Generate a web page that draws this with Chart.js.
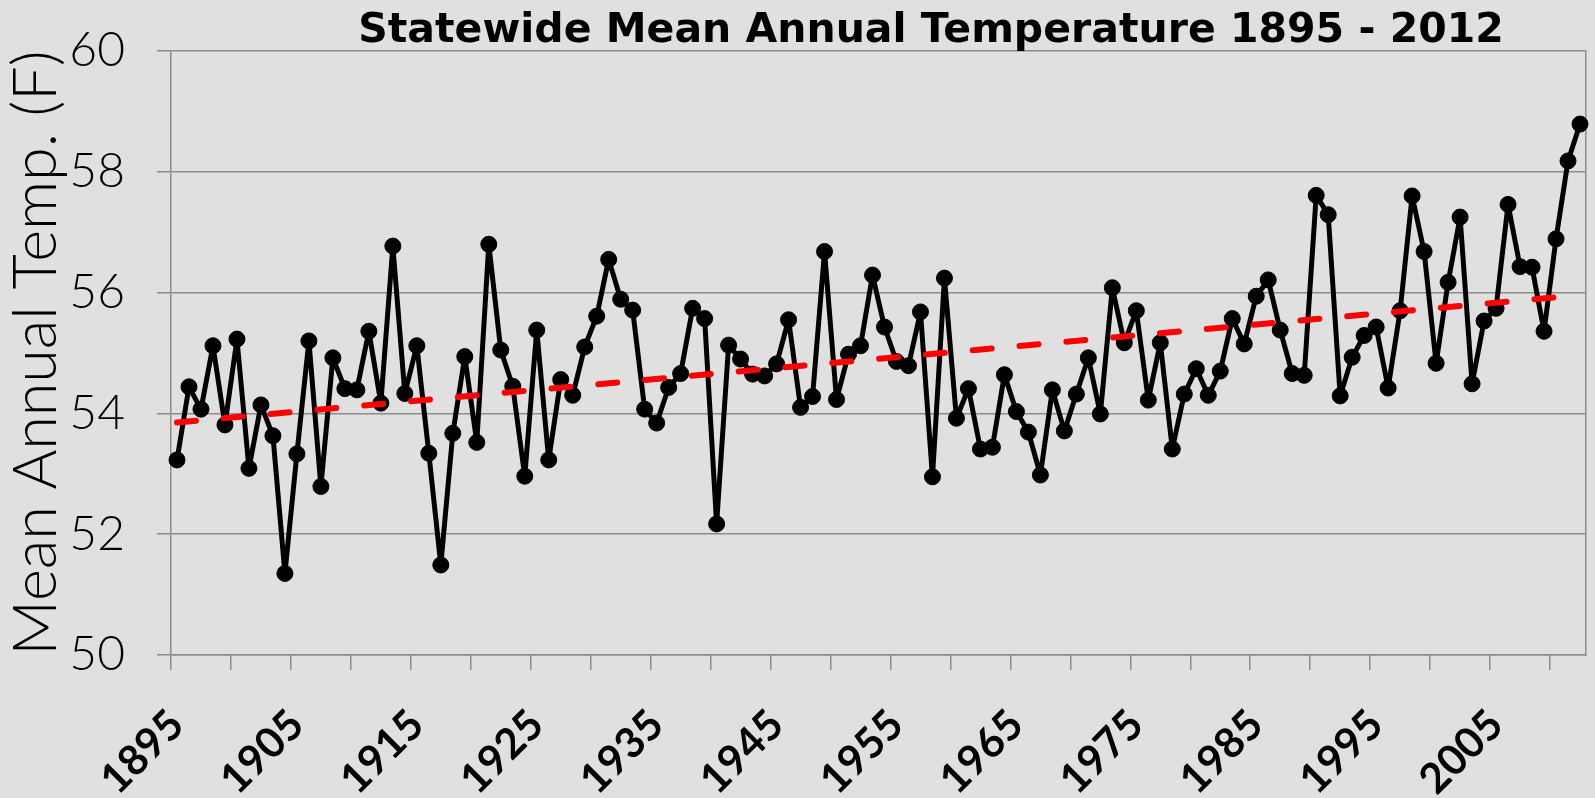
<!DOCTYPE html>
<html>
<head>
<meta charset="utf-8">
<title>Statewide Mean Annual Temperature 1895 - 2012</title>
<script src="https://cdn.jsdelivr.net/npm/chart.js@4"></script>
<style>
  html, body { margin: 0; padding: 0; background: #e0e0e0; }
  #wrap { width: 1595px; height: 798px; position: relative; }
</style>
</head>
<body>
<div id="wrap"><canvas id="temp-chart"></canvas></div>
<script>
// chart title
const chartTitle = 'Statewide Mean Annual Temperature 1895 - 2012';
const yTitle = 'Mean Annual Temp. (F)';
// years on the x axis
const firstYear = 1895;
const lastYear = 2012;
// mean annual temperature (F), 1895 .. 2012
const meanTemps = [
  53.23, 54.44, 54.07, 55.12, 53.81, 55.23, 53.09, 54.14, 53.63, 51.35, // 1895-1904
  53.33, 55.20, 52.79, 54.92, 54.41, 54.39, 55.36, 54.17, 56.77, 54.33, // 1905-1914
  55.12, 53.34, 51.49, 53.67, 54.94, 53.52, 56.80, 55.05, 54.45, 52.96, // 1915-1924
  55.38, 53.23, 54.56, 54.30, 55.10, 55.61, 56.55, 55.89, 55.71, 54.07, // 1925-1934
  53.84, 54.43, 54.66, 55.74, 55.57, 52.17, 55.13, 54.90, 54.65, 54.62, // 1935-1944
  54.82, 55.55, 54.10, 54.28, 56.68, 54.23, 54.98, 55.12, 56.29, 55.43, // 1945-1954
  54.86, 54.79, 55.68, 52.95, 56.24, 53.92, 54.41, 53.41, 53.44, 54.64, // 1955-1964
  54.03, 53.69, 52.98, 54.39, 53.71, 54.32, 54.92, 53.99, 56.08, 55.17, // 1965-1974
  55.70, 54.22, 55.17, 53.41, 54.32, 54.74, 54.30, 54.70, 55.57, 55.15, // 1975-1984
  55.94, 56.21, 55.38, 54.66, 54.63, 57.61, 57.29, 54.29, 54.93, 55.29, // 1985-1994
  55.43, 54.42, 55.70, 57.60, 56.68, 54.83, 56.17, 57.25, 54.49, 55.53, // 1995-2004
  55.74, 57.46, 56.43, 56.42, 55.36, 56.89, 58.18, 58.79              // 2005-2012
];
// red dashed trend line, value at first and last year
const trendEnds = [53.85, 55.96];
// y axis ticks
const yTicks = [50, 52, 54, 56, 58, 60];

const gridGray = '#8c8c8c';
const font = 'Lato';

// build categories and the trend row from the arrays above
const years = [];
for (let y = firstYear; y <= lastYear; y++) years.push(String(y));
const trendRow = years.map((y, i) => {
  if (i === 0) return trendEnds[0];
  if (i === years.length - 1) return trendEnds[1];
  return null;
});

// title drawn over the plot, Excel style
const titlePlugin = {
  id: 'plotTitle',
  afterDraw(chart) {
    const ctx = chart.ctx;
    ctx.save();
    ctx.font = 'bold 41px "DejaVu Sans"';
    ctx.fillStyle = '#000';
    ctx.textAlign = 'center';
    ctx.textBaseline = 'alphabetic';
    ctx.fillText(chartTitle, 931, 42);
    ctx.restore();
  }
};

const tempCanvas = document.getElementById('temp-chart');

const tempChart = new Chart(tempCanvas, {
  type: 'line',
  data: {
    labels: years,
    datasets: [{
      label: 'Trend',
      data: trendRow,
      spanGaps: true,
      borderColor: '#ff0000',
      borderWidth: 6,
      borderDash: [19, 28],
      borderCapStyle: 'round',
      pointRadius: 0,
      order: 0
    }, {
      label: 'Mean Annual Temp.',
      data: meanTemps,
      borderColor: '#000',
      borderWidth: 5,
      borderJoinStyle: 'round',
      backgroundColor: '#000',
      pointBackgroundColor: '#000',
      pointBorderColor: '#000',
      pointRadius: 8,
      pointBorderWidth: 1,
      tension: 0,
      order: 1
    }]
  },
  options: {
    responsive: true,
    maintainAspectRatio: false,
    animation: false,
    layout: { padding: { top: 51, right: 0, bottom: 0, left: 0 } },
    plugins: {
      legend: { display: false },
      title: { display: false },
      tooltip: { enabled: false }
    },
    scales: {
      x: {
        type: 'category',
        offset: true,
        grid: {
          offset: true,
          drawOnChartArea: false,
          tickLength: 15,
          lineWidth: 1.5,
          color: ctx => (ctx.index % 5 === 0 ? gridGray : 'rgba(0,0,0,0)')
        },
        border: { color: gridGray, width: 1.5 },
        ticks: {
          autoSkip: false,
          maxRotation: 45,
          minRotation: 45,
          padding: 30,
          color: '#000',
          font: { family: font, size: 42, weight: 'bold' },
          callback: function (val, i) {
            return i % 10 === 0 ? this.getLabelForValue(val) : '';
          }
        },
        afterFit: s => {
          s.height = 143;
          s.paddingLeft = 0;
          s.paddingRight = 0;
        }
      },
      y: {
        min: yTicks[0],
        max: yTicks[yTicks.length - 1],
        grid: { color: gridGray, lineWidth: 1.5, tickLength: 14 },
        border: { color: gridGray, width: 1.5 },
        ticks: {
          stepSize: yTicks[1] - yTicks[0],
          padding: 32,
          color: '#000',
          font: { family: font, size: 48, weight: '300' }
        },
        title: {
          display: true,
          text: yTitle,
          color: '#000',
          padding: { top: 0, bottom: 0 },
          font: { family: font, size: 61, weight: '300' }
        },
        afterFit: s => {
          s.width = 171;
          s.paddingTop = 0;
          s.paddingBottom = 0;
        }
      },
      yRight: {
        position: 'right',
        min: yTicks[0],
        max: yTicks[yTicks.length - 1],
        ticks: { display: false },
        grid: { drawOnChartArea: false, drawTicks: false },
        border: { color: gridGray, width: 1.5 },
        afterFit: s => { s.width = 2; }
      }
    }
  },
  plugins: [titlePlugin]
});
</script>
</body>
</html>
